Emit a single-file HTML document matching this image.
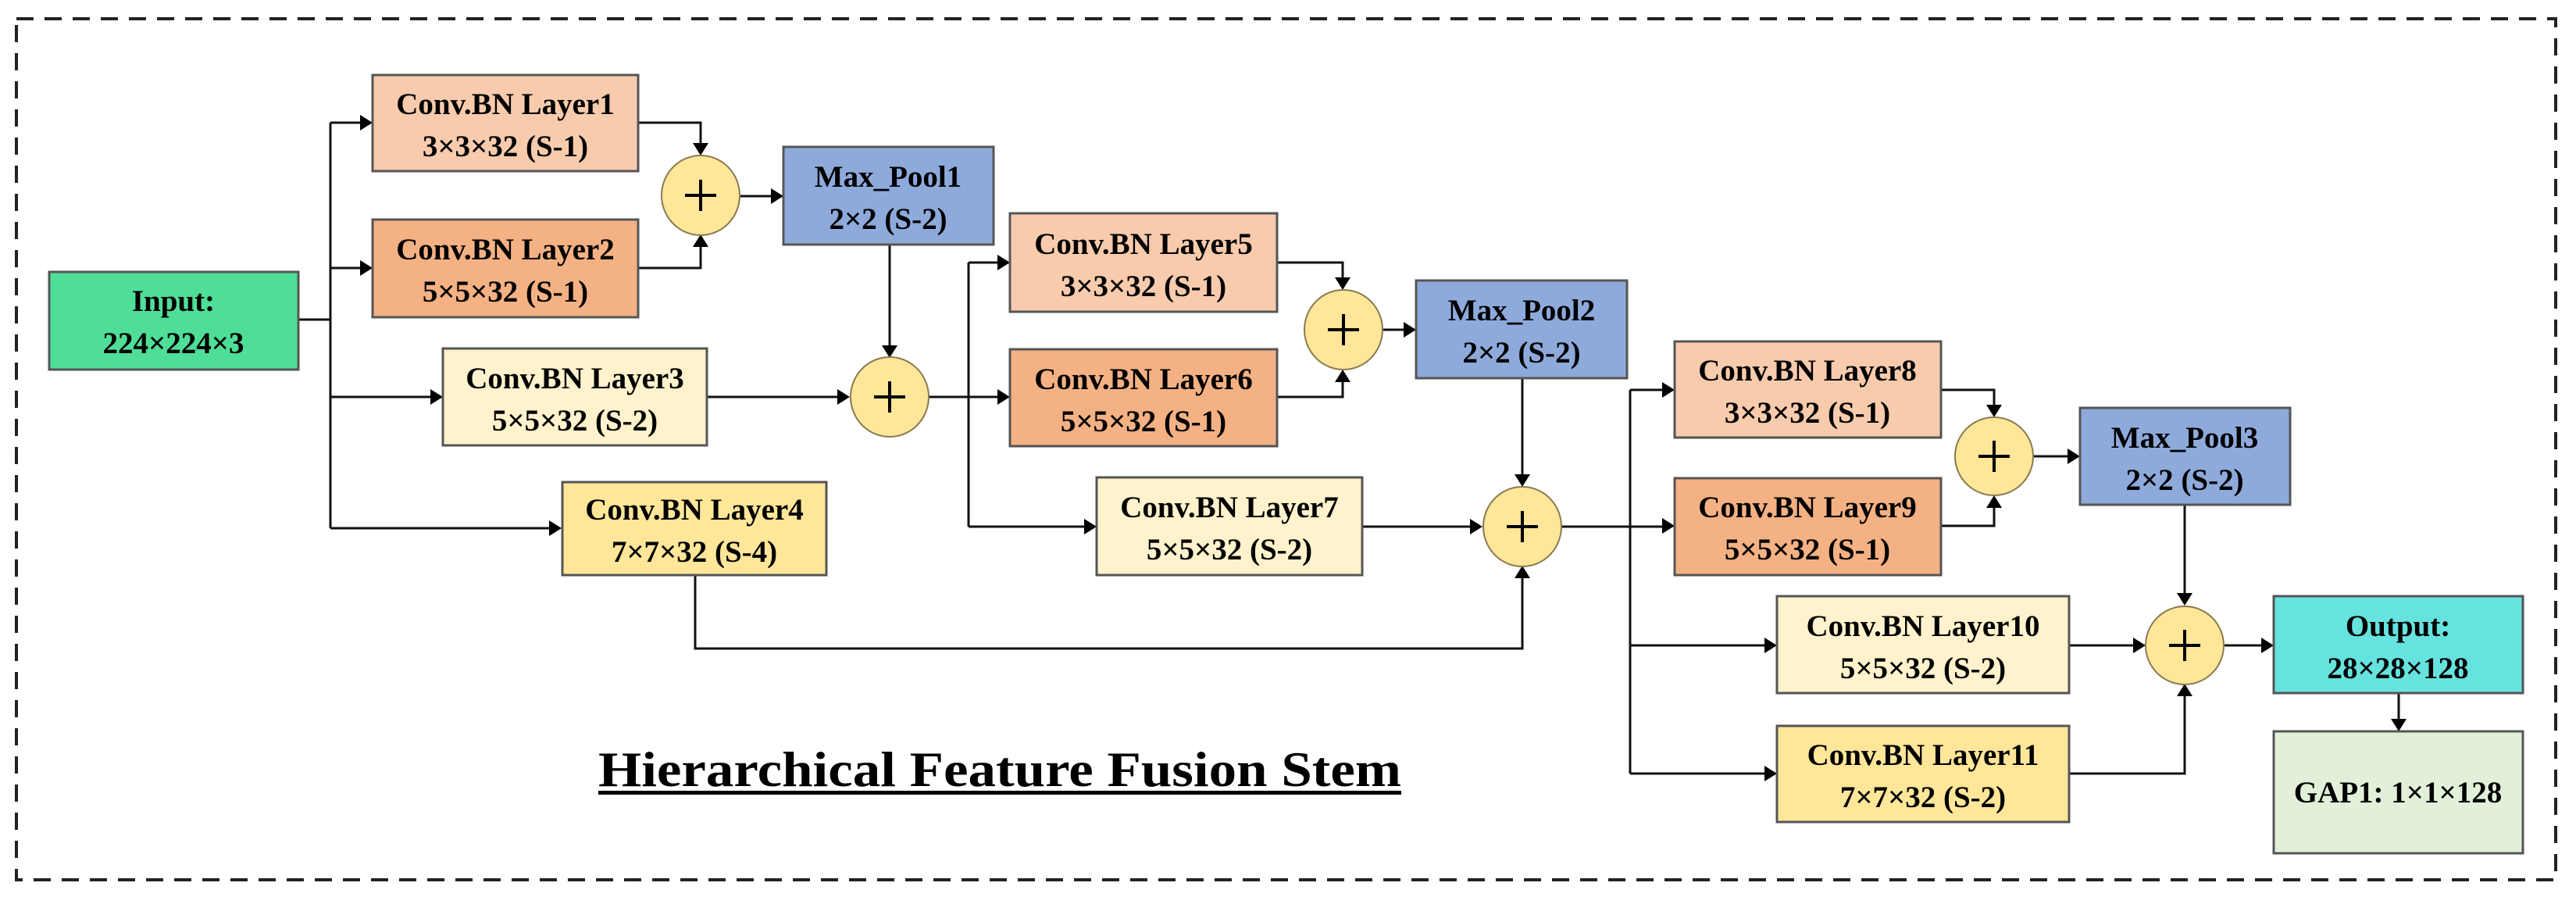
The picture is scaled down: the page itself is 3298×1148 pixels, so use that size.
<!DOCTYPE html>
<html><head><meta charset="utf-8"><style>
html,body{margin:0;padding:0;background:#fff}
svg{display:block}
text{font-family:"Liberation Serif",serif;font-weight:bold;fill:#000}
</style></head><body>
<svg width="3298" height="1148" viewBox="0 0 3298 1148" xmlns="http://www.w3.org/2000/svg">
<rect x="21" y="24" width="3251" height="1102" fill="none" stroke="#222" stroke-width="4" stroke-dasharray="22,14"/>

<g stroke="#111" stroke-width="3" fill="none">
<path d="M382 409 H423 M423 157 V676 M423 157 H470 M423 343 H470 M423 508 H560 M423 676 H712"/>
<path d="M817 157 H897 V192 M817 343 H897 V308 M948 251 H996"/>
<path d="M1139 313 V450 M905 508 H1081 M1188 508 H1286 M1240 336 V674 M1240 336 H1286 M1240 674 H1397"/>
<path d="M1635 336 H1719 V364 M1635 508 H1719 V480 M1770 422 H1806"/>
<path d="M1949 484 V616 M1744 674 H1891 M890 736 V830 H1949 V731"/>
<path d="M1999 674 H2137 M2087 499 V990 M2087 499 H2137 M2087 826 H2268 M2087 990 H2268"/>
<path d="M2485 499 H2553 V527 M2485 673 H2553 V641 M2603 584 H2656"/>
<path d="M2797 646 V768 M2649 826 H2740 M2649 990 H2797 V882 M2848 826 H2904 M3071 887 V929"/>
</g>
<g fill="#000">
<path d="M477 157 l-16 -10 v20z M477 343 l-16 -10 v20z M567 508 l-16 -10 v20z M719 676 l-16 -10 v20z M1003 251 l-16 -10 v20z M1088 508 l-16 -10 v20z M1293 336 l-16 -10 v20z M1293 508 l-16 -10 v20z M1404 674 l-16 -10 v20z M1813 422 l-16 -10 v20z M1898 674 l-16 -10 v20z M2144 499 l-16 -10 v20z M2144 673 l-16 -10 v20z M2275 826 l-16 -10 v20z M2275 990 l-16 -10 v20z M2663 584 l-16 -10 v20z M2747 826 l-16 -10 v20z M2911 826 l-16 -10 v20z"/>
<path d="M897 199 l-10 -16 h20z M1139 458 l-10 -16 h20z M1719 371 l-10 -16 h20z M1949 623 l-10 -16 h20z M2553 534 l-10 -16 h20z M2797 775 l-10 -16 h20z M3071 936 l-10 -16 h20z"/>
<path d="M897 300 l-10 16 h20z M1719 473 l-10 16 h20z M1949 724 l-10 16 h20z M2553 634 l-10 16 h20z M2797 875 l-10 16 h20z"/>
</g>

<g stroke="#555" stroke-width="3">
<rect x="63" y="348" width="319" height="125" fill="#4FDE98"/>
<rect x="477" y="96" width="340" height="123" fill="#F8CBAD"/>
<rect x="477" y="281" width="340" height="125" fill="#F4B183"/>
<rect x="567" y="446" width="338" height="124" fill="#FFF2CC"/>
<rect x="720" y="617" width="338" height="119" fill="#FFE699"/>
<rect x="1003" y="188" width="269" height="125" fill="#8EAADB"/>
<rect x="1293" y="273" width="342" height="126" fill="#F8CBAD"/>
<rect x="1293" y="447" width="342" height="124" fill="#F4B183"/>
<rect x="1404" y="611" width="340" height="125" fill="#FFF2CC"/>
<rect x="1813" y="359" width="270" height="125" fill="#8EAADB"/>
<rect x="2144" y="437" width="341" height="123" fill="#F8CBAD"/>
<rect x="2144" y="612" width="341" height="124" fill="#F4B183"/>
<rect x="2275" y="763" width="374" height="124" fill="#FFF2CC"/>
<rect x="2275" y="929" width="374" height="123" fill="#FFE699"/>
<rect x="2663" y="522" width="269" height="124" fill="#8EAADB"/>
<rect x="2911" y="763" width="319" height="124" fill="#66E3DF"/>
<rect x="2911" y="936" width="319" height="156" fill="#E2F0D9"/>
</g>
<g fill="#FFE699" stroke="#8a7a50" stroke-width="2">
<ellipse cx="897" cy="250" rx="50" ry="51"/>
<ellipse cx="1139" cy="508" rx="50" ry="51"/>
<ellipse cx="1720" cy="422" rx="50" ry="51"/>
<ellipse cx="1949" cy="674" rx="50" ry="51"/>
<ellipse cx="2553" cy="584" rx="50" ry="50"/>
<ellipse cx="2797" cy="826" rx="50" ry="50"/>
</g>
<g stroke="#000" stroke-width="4">
<path d="M877 250 h40 M897 230 v40 M1119 508 h40 M1139 488 v40 M1700 422 h40 M1720 402 v40 M1929 674 h40 M1949 654 v40 M2533 584 h40 M2553 564 v40 M2777 826 h40 M2797 806 v40"/>
</g>

<g font-size="39" text-anchor="middle">
<text x="222" y="398">Input:</text><text x="222" y="452">224×224×3</text>
<text x="647" y="146">Conv.BN Layer1</text><text x="647" y="200">3×3×32 (S-1)</text>
<text x="647" y="332">Conv.BN Layer2</text><text x="647" y="386">5×5×32 (S-1)</text>
<text x="736" y="497">Conv.BN Layer3</text><text x="736" y="551">5×5×32 (S-2)</text>
<text x="889" y="665">Conv.BN Layer4</text><text x="889" y="719">7×7×32 (S-4)</text>
<text x="1137" y="239">Max_Pool1</text><text x="1137" y="293">2×2 (S-2)</text>
<text x="1464" y="325">Conv.BN Layer5</text><text x="1464" y="379">3×3×32 (S-1)</text>
<text x="1464" y="498">Conv.BN Layer6</text><text x="1464" y="552">5×5×32 (S-1)</text>
<text x="1574" y="662">Conv.BN Layer7</text><text x="1574" y="716">5×5×32 (S-2)</text>
<text x="1948" y="410">Max_Pool2</text><text x="1948" y="464">2×2 (S-2)</text>
<text x="2314" y="487">Conv.BN Layer8</text><text x="2314" y="541">3×3×32 (S-1)</text>
<text x="2314" y="662">Conv.BN Layer9</text><text x="2314" y="716">5×5×32 (S-1)</text>
<text x="2462" y="814">Conv.BN Layer10</text><text x="2462" y="868">5×5×32 (S-2)</text>
<text x="2462" y="979">Conv.BN Layer11</text><text x="2462" y="1033">7×7×32 (S-2)</text>
<text x="2797" y="573">Max_Pool3</text><text x="2797" y="627">2×2 (S-2)</text>
<text x="3070" y="814">Output:</text><text x="3070" y="868">28×28×128</text>
<text x="3070" y="1027">GAP1: 1×1×128</text>
</g>
<text x="766" y="1006" font-size="64" textLength="1028" lengthAdjust="spacingAndGlyphs">Hierarchical Feature Fusion Stem</text>
<rect x="766" y="1012" width="1028" height="5" fill="#000"/>
</svg>
</body></html>
